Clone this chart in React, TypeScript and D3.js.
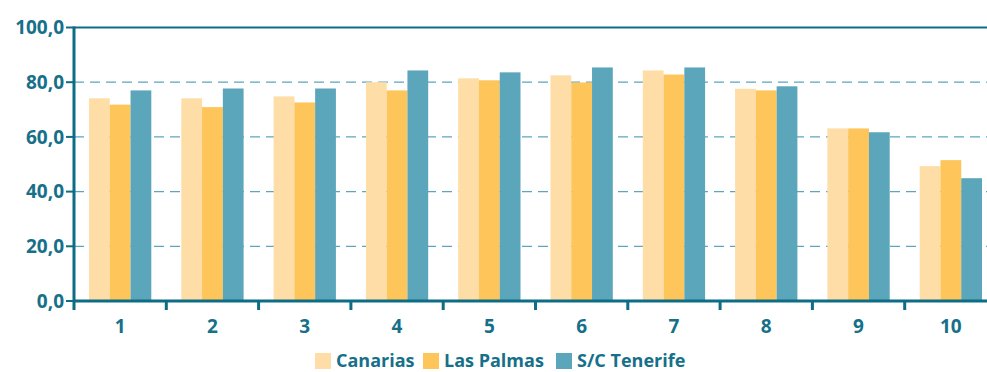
import React from "react";
import * as d3 from "d3";

const categories = ["1", "2", "3", "4", "5", "6", "7", "8", "9", "10"];
const seriesNames = ["Canarias", "Las Palmas", "S/C Tenerife"];
const canarias = [74.1, 74.1, 74.8, 80.0, 81.4, 82.5, 84.3, 77.6, 63.1, 49.3];
const lasPalmas = [71.8, 70.9, 72.6, 77.0, 80.7, 79.9, 82.8, 77.0, 63.1, 51.5];
const tenerife = [77.0, 77.7, 77.7, 84.3, 83.6, 85.4, 85.4, 78.5, 61.7, 44.9];
const yTicks = [0, 20, 40, 60, 80, 100];

const colors = ["#FEDDA6", "#FDC55A", "#5CA6BB"];
const axisColor = "#0C6D85";
const textColor = "#16708A";
const gridColor = "#5CA6BB";

export default function App() {
  const W = 987, H = 372;
  const left = 74, right = 997, top = 27.5, bottom = 301;
  const x = d3.scaleBand<string>().domain(categories).range([left, right]).paddingInner(0).paddingOuter(0);
  const y = d3.scaleLinear().domain([0, 100]).range([bottom, top]);
  const groupW = x.bandwidth() * 0.675;
  const x1 = d3.scaleBand<number>().domain([0, 1, 2]).range([0, groupW]);
  const data = [canarias, lasPalmas, tenerife];
  const fmt = (v: number) => v.toFixed(1).replace(".", ",");
  const font = "'Open Sans', 'Noto Sans', sans-serif";

  const legendItems = [
    { name: seriesNames[0], x: 315 },
    { name: seriesNames[1], x: 423 },
    { name: seriesNames[2], x: 556 },
  ];

  return (
    <svg width={W} height={H} style={{ position: "absolute", left: 0, top: 0 }}>
      <rect width={W} height={H} fill="#fff" />
      {yTicks.filter(t => t > 0 && t < 100).map(t => (
        <line key={t} x1={left} x2={W} y1={y(t)} y2={y(t)} stroke={gridColor} strokeWidth={1.2} strokeDasharray="10,6" />
      ))}
      {categories.map((c, i) => {
        const gx = (x(c) as number) + (x.bandwidth() - groupW) / 2;
        return data.map((s, si) => (
          <rect key={c + si} x={gx + (x1(si) as number)} y={y(s[i])} width={x1.bandwidth()} height={bottom - y(s[i])} fill={colors[si]} />
        ));
      })}
      <line x1={left} x2={W} y1={y(100)} y2={y(100)} stroke={axisColor} strokeWidth={2} />
      <line x1={left} x2={left} y1={y(100) - 1} y2={bottom + 9} stroke={axisColor} strokeWidth={3} />
      {yTicks.map(t => (
        <g key={t}>
          <line x1={left - 8} x2={left} y1={y(t)} y2={y(t)} stroke={axisColor} strokeWidth={2} />
          <text x={left - 10} y={y(t)} dy="0.36em" textAnchor="end" fill={textColor} fontFamily={font} fontWeight={700} fontSize={19}>{fmt(t)}</text>
        </g>
      ))}
      <line x1={left} x2={W} y1={bottom} y2={bottom} stroke={axisColor} strokeWidth={3} />
      {categories.map((c, i) => (
        <g key={c}>
          {i > 0 && <line x1={x(c)} x2={x(c)} y1={bottom} y2={bottom + 9} stroke={axisColor} strokeWidth={3} />}
          <text x={(x(c) as number) + x.bandwidth() / 2} y={326} dy="0.36em" textAnchor="middle" fill={textColor} fontFamily={font} fontWeight={700} fontSize={19}>{c}</text>
        </g>
      ))}
      {legendItems.map((l, i) => (
        <g key={l.name}>
          <rect x={l.x} y={353} width={16} height={16} fill={colors[i]} />
          <text x={l.x + 21} y={367} fill={textColor} fontFamily={font} fontWeight={700} fontSize={18}>{l.name}</text>
        </g>
      ))}
    </svg>
  );
}
